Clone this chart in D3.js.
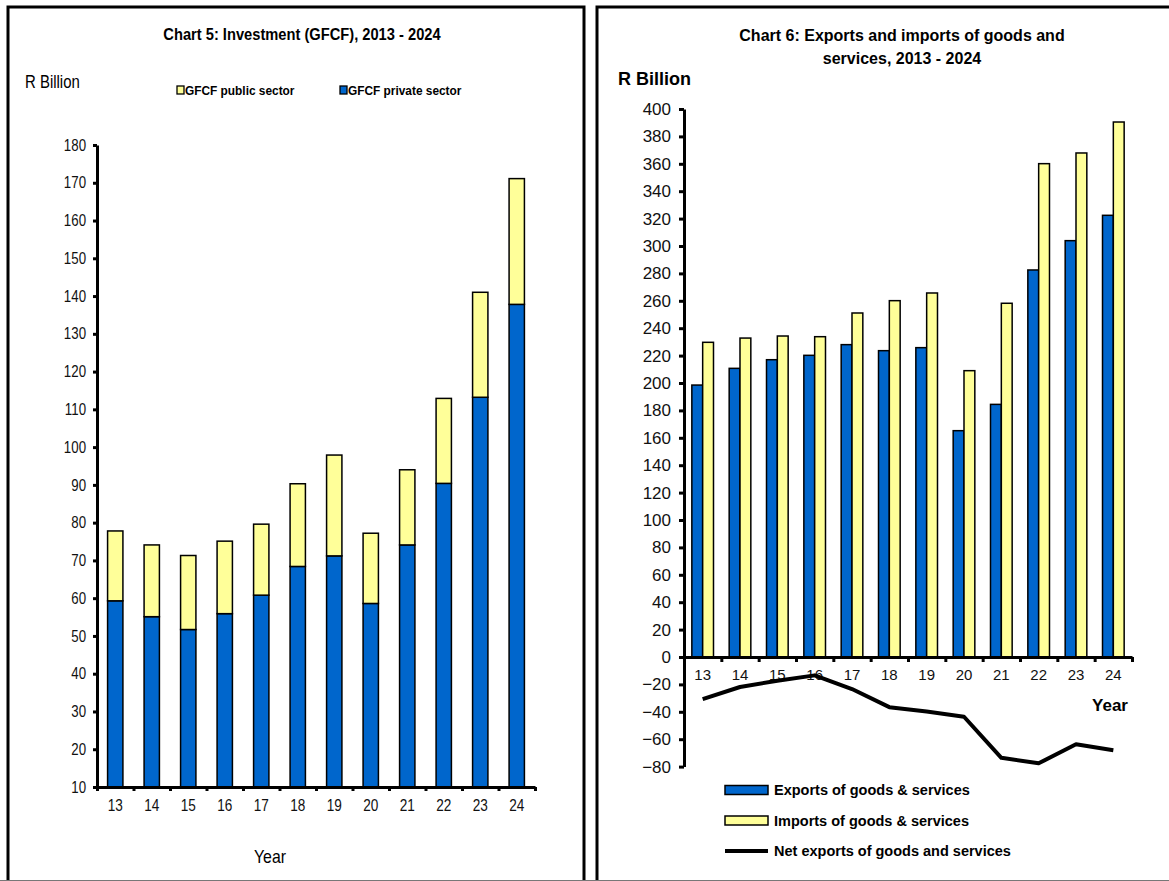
<!DOCTYPE html>
<html>
<head>
<meta charset="utf-8">
<script src="https://cdnjs.cloudflare.com/ajax/libs/d3/7.8.5/d3.min.js"></script>
<style>
  body { margin: 0; background: #fff; }
  svg { display: block; }
  .narrow, .wide { font-family: "Liberation Sans", Arial, sans-serif; }
  .axis .domain { stroke: #000; stroke-width: 3; }
  .axis .tick line { stroke: #000; stroke-width: 3; }
  .axis .tick text { fill: #111; }
</style>
</head>
<body>
<div class="charts"></div>
<script>
var YEARS = ['13', '14', '15', '16', '17', '18', '19', '20', '21', '22', '23', '24'];

// chart 5 - GFCF (R billion)
var GFCF_PRIVATE = [59.3, 55.1, 51.7, 55.9, 60.8, 68.4, 71.2, 58.6, 74.1, 90.4, 113.2, 137.8];
var GFCF_PUBLIC = [18.5, 19.0, 19.6, 19.2, 18.8, 21.9, 26.7, 18.6, 19.9, 22.5, 27.8, 33.3];
var GFCF_TICKS = [10, 20, 30, 40, 50, 60, 70, 80, 90, 100, 110, 120, 130, 140, 150, 160, 170, 180];

// chart 6 - trade (R billion)
var EXPORTS = [198.5, 210.7, 217.0, 220.2, 228.0, 223.6, 225.8, 165.2, 184.4, 282.5, 303.9, 322.4];
var IMPORTS = [229.7, 232.8, 234.3, 233.8, 251.1, 260.1, 265.7, 209.0, 258.2, 360.1, 367.9, 390.5];
var NET_EXPORTS = [-30.7, -21.9, -17.3, -13.4, -23.4, -36.6, -39.8, -43.6, -73.6, -77.6, -63.7, -68.0];
var TRADE_TICKS = [-80, -60, -40, -20, 0, 20, 40, 60, 80, 100, 120, 140, 160, 180, 200, 220, 240, 260, 280, 300, 320, 340, 360, 380, 400];

var BLUE = '#0066cc', YELLOW = '#ffff99';

// squeeze text horizontally around its own x (no condensed font installed)
function narrow(sel, k) {
  sel.attr('transform', function() {
    var x = +this.getAttribute('x') || 0;
    return 'translate(' + (x * (1 - k)) + ',0) scale(' + k + ',1)';
  });
}

var svg = d3.select('.charts').append('svg')
  .attr('width', 1169)
  .attr('height', 881);

// panel frames
svg.append('path')
  .attr('d', 'M8,881 V7 H584 V881')
  .attr('fill', 'none').attr('stroke', '#000').attr('stroke-width', 3);
svg.append('path')
  .attr('d', 'M597,881 V7 H1172')
  .attr('fill', 'none').attr('stroke', '#000').attr('stroke-width', 3);
svg.append('line')
  .attr('x1', 0).attr('x2', 1169).attr('y1', 880.5).attr('y2', 880.5)
  .attr('stroke', '#777').attr('stroke-width', 1);

// ---------- Chart 5 ----------
var left = svg.append('g').attr('class', 'narrow');

var xL = d3.scaleBand().domain(YEARS).range([97, 535]);
var xLb = d3.scaleLinear().domain([0, 12]).range([97, 535]);
var yL = d3.scaleLinear().domain([10, 180]).range([787, 145]);

left.append('text')
  .attr('x', 302).attr('y', 40)
  .attr('text-anchor', 'middle')
  .style('font-size', '16.5px').style('font-weight', 'bold')
  .text('Chart 5: Investment (GFCF), 2013 - 2024')
  .call(narrow, 0.89);

left.append('text')
  .attr('x', 25).attr('y', 88)
  .style('font-size', '18px')
  .text('R Billion')
  .call(narrow, 0.83);

var legL = [
  {name: 'GFCF public sector', color: YELLOW, x: 177},
  {name: 'GFCF private sector', color: BLUE, x: 340}
];
var lg = left.selectAll('.legL').data(legL).enter().append('g')
  .attr('transform', function(d) { return 'translate(' + d.x + ',90)'; });
lg.append('rect')
  .attr('x', 0).attr('y', -4).attr('width', 7).attr('height', 8)
  .attr('fill', function(d) { return d.color; })
  .attr('stroke', '#000').attr('stroke-width', 1.3);
lg.append('text')
  .attr('x', 8).attr('y', 5)
  .style('font-size', '13.5px').style('font-weight', 'bold')
  .text(function(d) { return d.name; })
  .call(narrow, 0.88);

var stackData = YEARS.map(function(y, i) {
  return {year: y, priv: GFCF_PRIVATE[i], pub: GFCF_PUBLIC[i]};
});
var stacked = d3.stack().keys(['priv', 'pub'])(stackData);
var stackColor = {priv: BLUE, pub: YELLOW};

var barW = xL.bandwidth() * 0.42;
left.selectAll('.layer')
  .data(stacked)
  .enter().append('g')
  .attr('fill', function(d) { return stackColor[d.key]; })
  .selectAll('rect')
  .data(function(d) { return d; })
  .enter().append('rect')
  .attr('x', function(d) { return xL(d.data.year) + (xL.bandwidth() - barW) / 2; })
  .attr('width', barW)
  .attr('y', function(d) { return yL(d[1]); })
  .attr('height', function(d) { return yL(Math.max(10, d[0])) - yL(d[1]); })
  .attr('stroke', '#000').attr('stroke-width', 1.5);

// y axis
var yAxisL = d3.axisLeft(yL).tickValues(GFCF_TICKS).tickSize(4).tickSizeOuter(0).tickPadding(7);
left.append('g')
  .attr('class', 'axis')
  .attr('transform', 'translate(97,0)')
  .call(yAxisL)
  .selectAll('text').style('font-size', '16px')
  .call(narrow, 0.83);

// x axis: labels centred, ticks between categories
left.append('g')
  .attr('class', 'axis')
  .attr('transform', 'translate(0,787)')
  .call(d3.axisBottom(xLb).ticks(12).tickSize(4).tickSizeOuter(0).tickFormat(''));
left.append('g')
  .attr('class', 'axis')
  .attr('transform', 'translate(0,787)')
  .call(d3.axisBottom(xL).tickSize(0).tickPadding(13))
  .call(function(g) { g.select('.domain').remove(); })
  .selectAll('text').style('font-size', '16px')
  .call(narrow, 0.85);

left.append('text')
  .attr('x', 270).attr('y', 863)
  .attr('text-anchor', 'middle')
  .style('font-size', '18px')
  .text('Year')
  .call(narrow, 0.88);

// ---------- Chart 6 ----------
var right = svg.append('g').attr('class', 'wide');

var xR = d3.scaleBand().domain(YEARS).range([684, 1132]);
var xRb = d3.scaleLinear().domain([0, 12]).range([684, 1132]);
var yR = d3.scaleLinear().domain([-80, 400]).range([766.6, 109]);

right.append('text')
  .attr('x', 902).attr('y', 41)
  .attr('text-anchor', 'middle')
  .style('font-size', '16px').style('font-weight', 'bold')
  .text('Chart 6: Exports and imports of goods and');
right.append('text')
  .attr('x', 902).attr('y', 64)
  .attr('text-anchor', 'middle')
  .style('font-size', '16px').style('font-weight', 'bold')
  .text('services, 2013 - 2024');

right.append('text')
  .attr('x', 618).attr('y', 85)
  .style('font-size', '18px').style('font-weight', 'bold')
  .text('R Billion');

var tradeData = YEARS.map(function(y, i) {
  return {year: y, exp: EXPORTS[i], imp: IMPORTS[i], net: NET_EXPORTS[i]};
});
var sub = d3.scaleBand().domain(['exp', 'imp'])
  .range([xR.bandwidth() * 0.21, xR.bandwidth() * 0.79]);
var tradeColor = {exp: BLUE, imp: YELLOW};

right.selectAll('.grp')
  .data(tradeData)
  .enter().append('g')
  .attr('transform', function(d) { return 'translate(' + xR(d.year) + ',0)'; })
  .selectAll('rect')
  .data(function(d) { return ['exp', 'imp'].map(function(k) { return {key: k, value: d[k]}; }); })
  .enter().append('rect')
  .attr('x', function(d) { return sub(d.key); })
  .attr('width', sub.bandwidth())
  .attr('y', function(d) { return yR(d.value); })
  .attr('height', function(d) { return yR(0) - yR(d.value); })
  .attr('fill', function(d) { return tradeColor[d.key]; })
  .attr('stroke', '#000').attr('stroke-width', 1.5);

right.append('g')
  .attr('class', 'axis')
  .attr('transform', 'translate(684,0)')
  .call(d3.axisLeft(yR).tickValues(TRADE_TICKS).tickSize(5).tickSizeOuter(0).tickPadding(8))
  .selectAll('text').style('font-size', '17px');

right.append('g')
  .attr('class', 'axis')
  .attr('transform', 'translate(0,' + yR(0) + ')')
  .call(d3.axisBottom(xRb).ticks(12).tickSize(5).tickSizeOuter(0).tickFormat(''));
right.append('g')
  .attr('class', 'axis')
  .attr('transform', 'translate(0,' + yR(0) + ')')
  .call(d3.axisBottom(xR).tickSize(0).tickPadding(12))
  .call(function(g) { g.select('.domain').remove(); })
  .selectAll('text').style('font-size', '15px');

right.append('text')
  .attr('x', 1128).attr('y', 711)
  .attr('text-anchor', 'end')
  .style('font-size', '17px').style('font-weight', 'bold')
  .text('Year');

var line = d3.line()
  .x(function(d) { return xR(d.year) + xR.bandwidth() / 2; })
  .y(function(d) { return yR(d.net); });
right.append('path')
  .datum(tradeData)
  .attr('d', line)
  .attr('fill', 'none')
  .attr('stroke', '#000')
  .attr('stroke-width', 4)
  .attr('stroke-linejoin', 'round');

var legR = [
  {name: 'Exports of goods & services', type: 'bar', color: BLUE},
  {name: 'Imports of goods & services', type: 'bar', color: YELLOW},
  {name: 'Net exports of goods and services', type: 'line', color: '#000'}
];
var lr = right.selectAll('.legR').data(legR).enter().append('g')
  .attr('transform', function(d, i) { return 'translate(725,' + (790 + i * 30.5) + ')'; });
lr.filter(function(d) { return d.type === 'bar'; }).append('rect')
  .attr('x', 0).attr('y', -4.5).attr('width', 43).attr('height', 9)
  .attr('fill', function(d) { return d.color; })
  .attr('stroke', '#000').attr('stroke-width', 1.5);
lr.filter(function(d) { return d.type === 'line'; }).append('line')
  .attr('x1', 0).attr('x2', 43).attr('y1', 0).attr('y2', 0)
  .attr('stroke', '#000').attr('stroke-width', 4);
lr.append('text')
  .attr('x', 49).attr('y', 5)
  .style('font-size', '14.5px').style('font-weight', 'bold')
  .text(function(d) { return d.name; });
</script>
</body>
</html>
